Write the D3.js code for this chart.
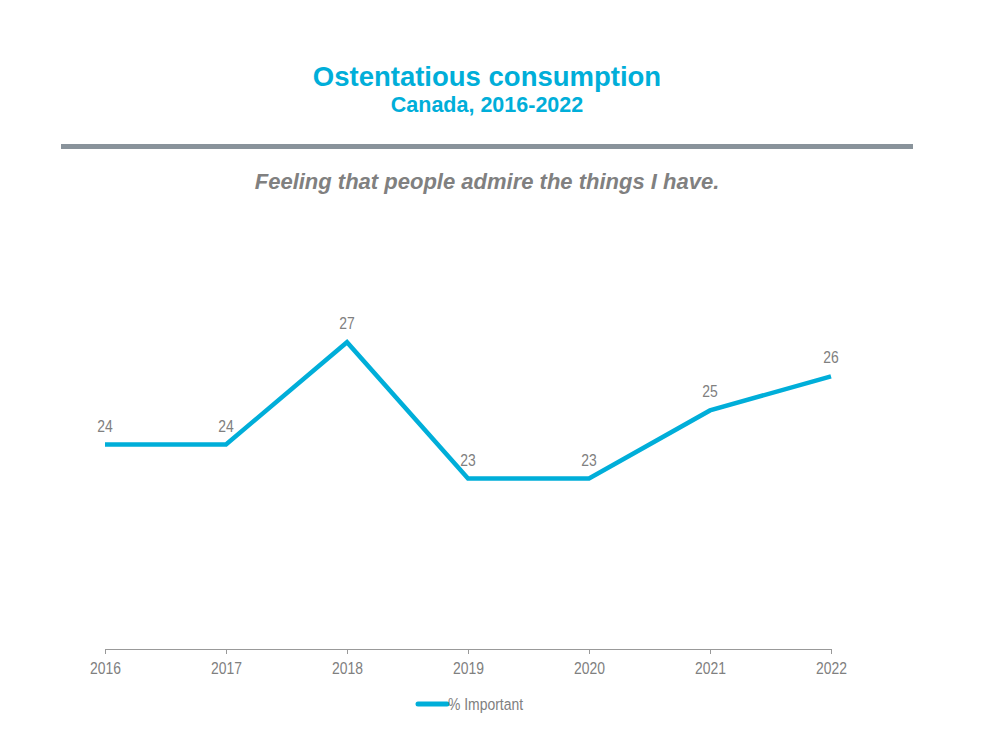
<!DOCTYPE html>
<html>
<head>
<meta charset="utf-8">
<script src="https://cdn.jsdelivr.net/npm/d3@7"></script>
<style>
	body { margin: 0; background: #fff; }
</style>
</head>
<body>
<div class="chart"></div>
<script>
const width = 1000,
	height = 750

// data
const years = ['2016', '2017', '2018', '2019', '2020', '2021', '2022']
const important = [24, 24, 27, 23, 23, 25, 26]
const seriesName = '% Important'

const blue = '#00aed9'
const grey = '#808080'
// no narrow font installed, so squeeze the regular one
const squeeze = 'scale(0.82,1)'
const smallSize = '17px'

const svg = d3
	.select('.chart')
	.append('svg')
	.attr('width', width)
	.attr('height', height)
	.style('font-family', 'Arial, "Liberation Sans", sans-serif')

// titles
svg.append('text')
	.attr('x', 487)
	.attr('y', 86)
	.attr('text-anchor', 'middle')
	.style('font-size', '27.5px')
	.style('font-weight', 'bold')
	.style('fill', blue)
	.text('Ostentatious consumption')

svg.append('text')
	.attr('x', 487)
	.attr('y', 112)
	.attr('text-anchor', 'middle')
	.style('font-size', '21.5px')
	.style('font-weight', 'bold')
	.style('fill', blue)
	.text('Canada, 2016-2022')

svg.append('rect')
	.attr('x', 61)
	.attr('y', 144)
	.attr('width', 852)
	.attr('height', 5)
	.attr('fill', '#89939b')

svg.append('text')
	.attr('x', 487)
	.attr('y', 189)
	.attr('text-anchor', 'middle')
	.style('font-size', '22px')
	.style('font-weight', 'bold')
	.style('font-style', 'italic')
	.style('fill', grey)
	.text('Feeling that people admire the things I have.')

// scales
const x = d3.scalePoint().domain(years).range([105, 831])
const y = d3.scaleLinear().domain([18, 30]).range([649, 240])

const data = years.map((yr, i) => ({ year: yr, value: important[i] }))

// x axis
const xAxis = svg.append('g')
	.attr('transform', 'translate(0,649)')
	.call(d3.axisBottom(x).tickSizeInner(5).tickSizeOuter(0).tickPadding(8))
xAxis.select('.domain').attr('stroke', '#999')
xAxis.selectAll('.tick line').attr('stroke', '#999')
xAxis.selectAll('.tick text')
	.attr('transform', squeeze)
	.style('font-size', smallSize)
	.style('fill', grey)

// the line
const line = d3.line()
	.x(d => x(d.year))
	.y(d => y(d.value))

svg.append('path')
	.datum(data)
	.attr('fill', 'none')
	.attr('stroke', blue)
	.attr('stroke-width', 4.5)
	.attr('stroke-linejoin', 'miter')
	.attr('d', line)

// value labels
svg.selectAll('.val')
	.data(data)
	.enter()
	.append('g')
	.attr('class', 'val')
	.attr('transform', d => `translate(${x(d.year)},${y(d.value) - 13}) ${squeeze}`)
	.append('text')
	.attr('text-anchor', 'middle')
	.style('font-size', smallSize)
	.style('fill', grey)
	.text(d => d.value)

// legend
svg.append('line')
	.attr('x1', 418)
	.attr('x2', 447)
	.attr('y1', 704)
	.attr('y2', 704)
	.attr('stroke', blue)
	.attr('stroke-width', 5)
	.attr('stroke-linecap', 'round')

svg.append('g')
	.attr('transform', `translate(448,710) ${squeeze}`)
	.append('text')
	.style('font-size', smallSize)
	.style('fill', grey)
	.text(seriesName)
</script>
</body>
</html>
